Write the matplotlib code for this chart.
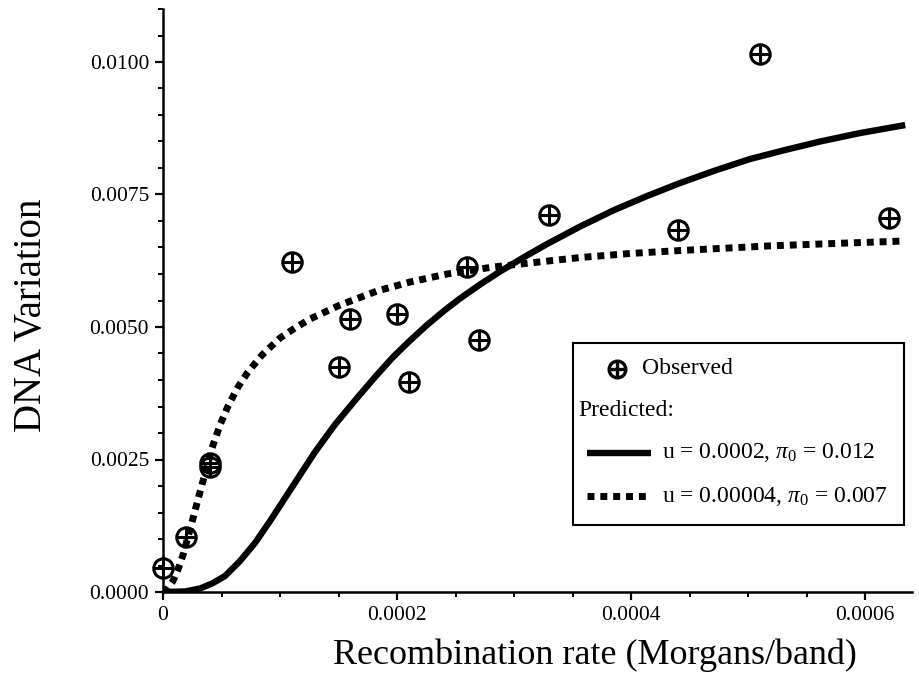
import matplotlib
matplotlib.use("Agg")
import matplotlib.pyplot as plt
from matplotlib.path import Path
from matplotlib.patches import Rectangle
from matplotlib.lines import Line2D
from matplotlib.ticker import MultipleLocator, FixedLocator

plt.rcParams['font.family'] = ['Liberation Serif', 'DejaVu Serif']
plt.rcParams['mathtext.fontset'] = 'custom'
plt.rcParams['mathtext.rm'] = 'Liberation Serif'
plt.rcParams['mathtext.it'] = 'Liberation Serif:italic'

# ---- data ----
obs_x = [0.0, 0.00002, 0.00004, 0.00004, 0.00011, 0.00015, 0.00016, 0.00020,
         0.00021, 0.00026, 0.00027, 0.00033, 0.00044, 0.00051, 0.00062]
obs_y = [0.00045, 0.00104, 0.00243, 0.00235, 0.00623, 0.00425, 0.00515, 0.00525,
         0.00396, 0.00613, 0.00475, 0.00711, 0.00683, 0.01015, 0.00706]

solid_x = [0.0, 0.0000188, 0.0000316, 0.0000419, 0.0000530, 0.0000658, 0.0000786,
           0.0000915, 0.0001043, 0.0001171, 0.0001299, 0.0001470, 0.0001658,
           0.0001812, 0.0001966, 0.0002111, 0.0002256, 0.0002410, 0.0002538,
           0.0002709, 0.0002880, 0.0003094, 0.0003282, 0.0003564, 0.0003846,
           0.0004137, 0.0004419, 0.0004718, 0.0005017, 0.0005316, 0.0005615,
           0.0005957, 0.0006342]
solid_y = [0.0, 0.0000094, 0.000066, 0.00016, 0.000302, 0.000585, 0.000925,
           0.00134, 0.001774, 0.002208, 0.002642, 0.00316, 0.00366,
           0.004057, 0.004434, 0.004745, 0.005038, 0.005321, 0.005538,
           0.005802, 0.006047, 0.00633, 0.006566, 0.006896, 0.007198,
           0.007472, 0.007717, 0.007953, 0.00817, 0.00834, 0.0085,
           0.00866, 0.00881]

dot_x = [0.0, 0.0000043, 0.0000085, 0.0000128, 0.0000171, 0.0000248, 0.0000316,
         0.0000419, 0.0000487, 0.0000556, 0.0000641, 0.0000726, 0.0000846,
         0.0001, 0.0001128, 0.0001256, 0.0001513, 0.0001829, 0.0002111,
         0.0002427, 0.0002821, 0.0003137, 0.0003564, 0.0003991, 0.0004419,
         0.0005162, 0.0005726, 0.0006342]
dot_y = [0.0, 0.0000755, 0.000208, 0.000425, 0.000698, 0.001321, 0.001887,
         0.002717, 0.003151, 0.003509, 0.003868, 0.004151, 0.004472,
         0.004792, 0.004981, 0.005151, 0.005415, 0.005679, 0.005849,
         0.006, 0.006132, 0.006208, 0.006311, 0.006387, 0.006443,
         0.006528, 0.006575, 0.006623]

x_ticks = [0.0, 0.0002, 0.0004, 0.0006]
x_tick_labels = ['0', '0.0002', '0.0004', '0.0006']
y_ticks = [0.0, 0.0025, 0.0050, 0.0075, 0.0100]
y_tick_labels = ['0.0000', '0.0025', '0.0050', '0.0075', '0.0100']

solid_label = r'u = 0.0002, $\pi_0$ = 0.012'
dot_label = r'u = 0.00004, $\pi_0$ = 0.007'

# ---- figure ----
W, H = 919, 690
fig = plt.figure(figsize=(W / 100, H / 100), dpi=100)

def fx(px):
    return px / W

def fy(py):
    return 1 - py / H

ax = fig.add_axes([fx(163), fy(592), (912 - 163) / W, (592 - 9) / H])
ax.set_xlim(0, 0.00064)
ax.set_ylim(0, 0.011)

for s in ['top', 'right']:
    ax.spines[s].set_visible(False)
for s in ['left', 'bottom']:
    ax.spines[s].set_linewidth(1.8)

ax.xaxis.set_major_locator(FixedLocator(x_ticks))
ax.set_xticklabels(x_tick_labels)
ax.yaxis.set_major_locator(FixedLocator(y_ticks))
ax.set_yticklabels(y_tick_labels)
ax.xaxis.set_minor_locator(MultipleLocator(0.00005))
ax.yaxis.set_minor_locator(MultipleLocator(0.0005))
ax.tick_params(which='major', direction='out', length=6, width=1.6, labelsize=15.5, pad=4)
ax.tick_params(which='minor', direction='out', length=3.5, width=1.4)

oplus = Path.make_compound_path(
    Path.unit_circle(),
    Path([[-1, 0], [1, 0], [0, -1], [0, 1]],
         [Path.MOVETO, Path.LINETO, Path.MOVETO, Path.LINETO]))

ax.plot(solid_x, solid_y, color='black', lw=4.6, solid_capstyle='butt',
        solid_joinstyle='round', zorder=2)
ax.plot(dot_x, dot_y, color='black', lw=5.0, linestyle=(0, (1.0, 0.85)),
        dash_capstyle='butt', zorder=2)
ax.plot(obs_x, obs_y, linestyle='none', marker=oplus, markersize=14,
        markerfacecolor='none', markeredgecolor='black', markeredgewidth=2.2,
        clip_on=False, zorder=3)

fig.text(fx(32), fy(315), 'DNA Variation', rotation=90, ha='center', va='center', fontsize=28)
fig.text(fx(595), fy(655), 'Recombination rate (Morgans/band)', ha='center', va='center', fontsize=26)

# ---- legend box (manual) ----
box = Rectangle((fx(573), fy(525)), fx(904) - fx(573), fy(343) - fy(525),
                transform=fig.transFigure, facecolor='white', edgecolor='black',
                linewidth=1.5, zorder=5)
fig.add_artist(box)
fig.add_artist(Line2D([fx(617)], [fy(369)], transform=fig.transFigure, marker=oplus,
                      markersize=12, markerfacecolor='none', markeredgecolor='black',
                      markeredgewidth=2.4, linestyle='none', zorder=6))
fig.text(fx(642), fy(369), 'Observed', ha='left', va='center', fontsize=17, zorder=6)
fig.text(fx(578), fy(410), 'Predicted:', ha='left', va='center', fontsize=17, zorder=6)
fig.add_artist(Line2D([fx(587), fx(651)], [fy(453), fy(453)], transform=fig.transFigure,
                      color='black', lw=4.6, solid_capstyle='butt', zorder=6))
fig.text(fx(662), fy(453), solid_label, ha='left', va='center', fontsize=17, zorder=6)
fig.add_artist(Line2D([fx(587), fx(651)], [fy(496), fy(496)], transform=fig.transFigure,
                      color='black', lw=5.0, linestyle=(0, (1.0, 0.85)),
                      dash_capstyle='butt', zorder=6))
fig.text(fx(662), fy(496), dot_label, ha='left', va='center', fontsize=17, zorder=6)

fig.savefig('out.png', dpi=100)
